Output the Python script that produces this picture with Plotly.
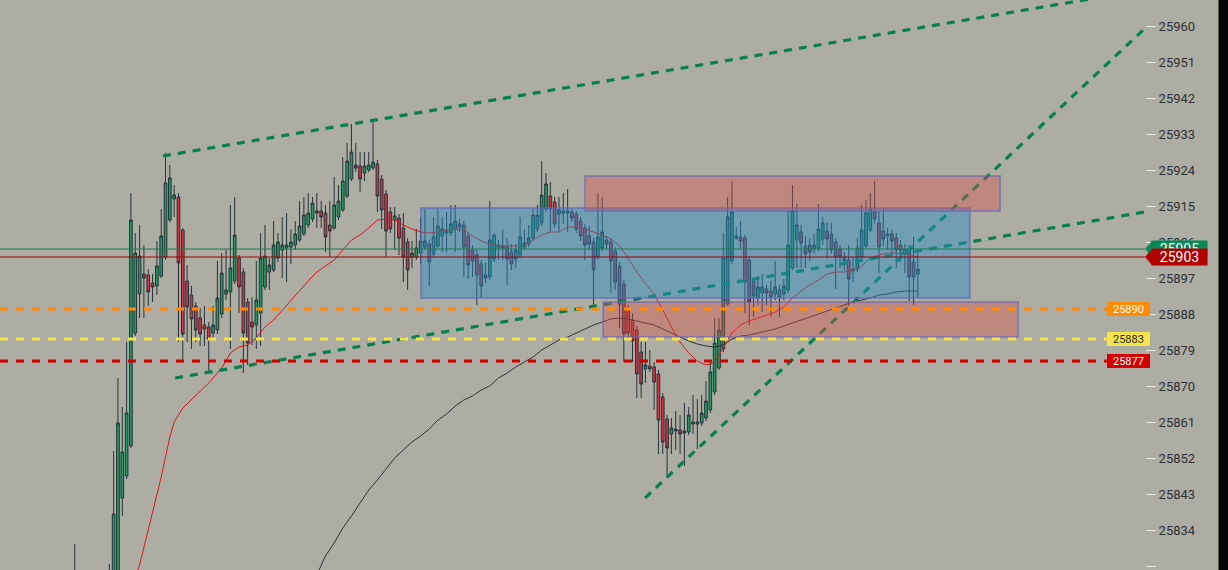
import plotly.graph_objects as go

# candle data (index = bar number, prices)
opens = [25810, 25816, 25812, 25808, 25813, 25810, 25814, 25812, 25812, 25815,
         25820, 25842, 25847.5, 25855, 25883.25, 25893, 25898, 25897.75, 25895.75, 25895,
         25897.5, 25902.25, 25911.5, 25916.75, 25917.25, 25909, 25896.25, 25892.75, 25890, 25887,
         25885.25, 25884.75, 25883.25, 25884, 25888, 25893, 25893.5, 25896.25, 25902, 25898.5,
         25891, 25886, 25885.25, 25888.25, 25894.75, 25898.5, 25899, 25902, 25904, 25904.5,
         25904.75, 25905.25, 25906.5, 25908, 25910.25, 25911.75, 25913.75, 25913.75, 25913.25, 25910.25,
         25909.5, 25912.25, 25914, 25917.5, 25921.75, 25925.25, 25925, 25923.25, 25924, 25924.5,
         25925.5, 25921.75, 25918, 25913.5, 25911.5, 25912, 25909.5, 25906, 25902.25, 25902.25,
         25903.25, 25904.75, 25905.5, 25903, 25905, 25907.5, 25908.25, 25908.25, 25909.25, 25910.5,
         25910.25, 25907.5, 25904, 25902.75, 25900.5, 25897.75, 25897.25, 25901.75, 25904.5, 25904.5,
         25904.75, 25903.5, 25901.75, 25902.75, 25904.75, 25905.5, 25907, 25909.25, 25910.75, 25914.25,
         25917.5, 25916, 25913, 25913.25, 25913.25, 25913.5, 25913, 25911.25, 25909.5, 25907.5,
         25906, 25902.25, 25904.5, 25906.5, 25906, 25903.75, 25900, 25895.5, 25889.25, 25886.5,
         25884, 25878.5, 25874.25, 25875, 25874.75, 25873, 25867.25, 25861.75, 25858, 25858.75,
         25859, 25858.25, 25858.5, 25860.5, 25860.5, 25860.75, 25862, 25864, 25868.5, 25874.5,
         25879.25, 25890.5, 25901.25, 25907, 25907.25, 25907, 25901.5, 25896.25, 25892, 25893.25,
         25894.25, 25893.75, 25893, 25894, 25893, 25894, 25899.5, 25906.5, 25908.5, 25905,
         25905.25, 25904.25, 25904.5, 25906.75, 25908.75, 25908, 25906, 25904.25, 25901.25, 25901.5,
         25898.75, 25899.25, 25902.25, 25905, 25909, 25913.5, 25910.75, 25908.75, 25907.5, 25908,
         25907, 25905.25, 25904.25, 25904.25, 25901, 25898]
highs = [25830.5, 25821, 25818, 25815, 25819, 25817, 25820, 25822, 25825.5, 25853.75,
         25872, 25864.75, 25881, 25918.25, 25908.25, 25910.25, 25905.25, 25899.25, 25898, 25906.25,
         25914.25, 25928.25, 25925.25, 25920.25, 25918.25, 25909.5, 25900.25, 25895, 25891, 25889.5,
         25890, 25886, 25890, 25901.25, 25903.25, 25904.25, 25915.25, 25917.25, 25902.75, 25899.5,
         25892, 25892.25, 25901.25, 25908.25, 25910.25, 25902, 25911.25, 25908.25, 25912.25, 25913.25,
         25909.25, 25911.25, 25916.25, 25917.25, 25918.25, 25917.25, 25918.25, 25916.25, 25915.25, 25916.25,
         25922.25, 25920.25, 25927.25, 25930.75, 25935.5, 25930.75, 25928.5, 25928.5, 25928.5, 25936.25,
         25926.5, 25922.75, 25919, 25914.75, 25914.75, 25913, 25913.25, 25907, 25906.25, 25909.25,
         25912.25, 25914.25, 25906.5, 25912.25, 25914.25, 25912.25, 25913.5, 25915.25, 25915.25, 25911.75,
         25911.25, 25908.5, 25905.25, 25904, 25901.5, 25900.75, 25916.25, 25908.25, 25906.5, 25909.25,
         25907, 25905.5, 25905.5, 25912.25, 25909.25, 25910.25, 25914.25, 25915.25, 25926.25, 25923.25,
         25921, 25917.25, 25917.25, 25918.25, 25919.25, 25914.25, 25913.75, 25912.25, 25910.5, 25910,
         25907, 25918.25, 25917.25, 25907.5, 25907, 25904.75, 25901, 25896.5, 25890.25, 25888.25,
         25885, 25881, 25881, 25879, 25876, 25874, 25868.25, 25862.75, 25862, 25863.75,
         25862.75, 25865.75, 25864.75, 25867.75, 25866.75, 25867.75, 25871.25, 25876.25, 25887, 25887,
         25908.25, 25917.25, 25921.25, 25909.75, 25911.25, 25907.75, 25902.5, 25897, 25897.5, 25898,
         25895.25, 25896.25, 25901.25, 25895.25, 25896.75, 25914, 25920.25, 25915.5, 25910.25, 25907.5,
         25907, 25908, 25915.5, 25912.25, 25911, 25910.75, 25907, 25905.25, 25903.5, 25905.25,
         25902, 25907, 25915.25, 25916.5, 25918.25, 25921.25, 25913.5, 25914.25, 25909.5, 25909,
         25908.25, 25906.5, 25905.5, 25905.25, 25907.25, 25904.25]
lows = [25805, 25808, 25804, 25802, 25806, 25805, 25809, 25808, 25806, 25810,
        25816, 25837.5, 25846.75, 25854.5, 25882.5, 25887, 25887, 25890, 25891, 25892.75,
        25897, 25901.5, 25911, 25912.25, 25881, 25876.25, 25881, 25879.25, 25881, 25880,
        25880, 25873.25, 25882, 25883, 25887, 25891.5, 25879.25, 25895.5, 25888.25, 25873.25,
        25875.25, 25880.25, 25879.25, 25880, 25894, 25894, 25898.5, 25901, 25897, 25896,
        25900.5, 25904, 25906, 25907.5, 25909.5, 25911, 25909.5, 25909.5, 25903.5, 25902.25,
        25909, 25911.5, 25913.5, 25917, 25921.25, 25923.5, 25918.5, 25921.25, 25923.5, 25924,
        25913.5, 25909.25, 25902.25, 25908.25, 25904, 25902.75, 25896, 25894, 25899.5, 25901.5,
        25900.5, 25904, 25895, 25902.25, 25904.5, 25903.5, 25903.5, 25907.5, 25903.5, 25908.5,
        25897.25, 25896.75, 25897.25, 25890.25, 25892.25, 25895.75, 25896.5, 25901, 25901.5, 25901.5,
        25895.25, 25899, 25899.5, 25902, 25904, 25904.75, 25906.5, 25908.5, 25910, 25913.5,
        25908.5, 25909.5, 25908.5, 25910.5, 25908.5, 25911, 25908.25, 25906.25, 25901.5, 25904,
        25890.25, 25901.5, 25903.75, 25904.25, 25893.25, 25894, 25884.5, 25876, 25881.5, 25876,
        25867, 25867, 25870.75, 25873.5, 25864, 25853, 25853, 25847, 25853, 25854,
        25853, 25850, 25857.75, 25858, 25854.25, 25860, 25861.25, 25863.25, 25867.75, 25874,
        25878.5, 25890, 25900.5, 25906.5, 25904.5, 25888.25, 25885.25, 25887.25, 25890.25, 25888.5,
        25890.25, 25887.25, 25891.5, 25887.25, 25891.5, 25893.25, 25899, 25899.5, 25899.5, 25899.5,
        25901.25, 25903, 25903.75, 25905.25, 25902, 25903, 25894.25, 25899.5, 25899, 25890,
        25896, 25898.5, 25901.5, 25904.25, 25908.5, 25910.5, 25898.25, 25905, 25904, 25902.5,
        25899.5, 25901, 25898.25, 25891.25, 25890.25, 25892.25]
closes = [25816, 25812, 25808, 25813, 25810, 25814, 25812, 25818, 25820, 25838,
          25860.75, 25853.5, 25863.25, 25911.5, 25903.25, 25902.5, 25897, 25893.5, 25894.75, 25900,
          25907.5, 25920.75, 25922, 25917.75, 25900.75, 25883, 25889.75, 25886.75, 25884, 25883,
          25884.25, 25881.75, 25885.25, 25892, 25898.25, 25894, 25899.5, 25907.75, 25894.75, 25883.25,
          25880.75, 25884.75, 25891.5, 25902, 25902.5, 25900.25, 25905.25, 25906, 25905.25, 25905.25,
          25906, 25908, 25910, 25912.75, 25913.25, 25915.75, 25913.25, 25912.25, 25907.25, 25908.75,
          25915.25, 25916.25, 25921.25, 25926.25, 25928.5, 25924.5, 25921.75, 25925, 25925.25, 25926,
          25917.5, 25914, 25908.75, 25909.25, 25912.5, 25907, 25902.25, 25899, 25903.25, 25904.5,
          25906.25, 25906.25, 25901, 25907.25, 25910, 25909.25, 25908.75, 25910.5, 25911.25, 25909.75,
          25904.75, 25900.25, 25901.25, 25897.75, 25895, 25897, 25906.5, 25907.75, 25905.25, 25905,
          25901.75, 25900.5, 25904, 25907.25, 25905.75, 25907, 25912.75, 25912.75, 25917.75, 25920.5,
          25914.25, 25910.5, 25914, 25913.75, 25913.75, 25912, 25909.25, 25907.5, 25905.25, 25905.5,
          25899, 25907.25, 25908.5, 25905.5, 25901.25, 25896, 25890.5, 25883, 25883.25, 25881.25,
          25873, 25870.5, 25875.25, 25874.25, 25871, 25861.5, 25856, 25854.5, 25859.5, 25859.25,
          25858, 25858.75, 25862.75, 25861, 25861, 25863.25, 25866.25, 25873.5, 25880.75, 25884,
          25902, 25912.25, 25913.5, 25907.5, 25906.25, 25896, 25891, 25892.5, 25894.75, 25894.75,
          25893.25, 25892.25, 25894.75, 25892.25, 25895, 25905.25, 25913.75, 25910.25, 25905.75, 25903,
          25903.5, 25905.25, 25909.25, 25910.75, 25906.75, 25904, 25902.25, 25902.25, 25902, 25896.75,
          25899.25, 25904.5, 25909, 25913.25, 25914.5, 25911.75, 25904.75, 25906.75, 25908, 25906.25,
          25904, 25904, 25903, 25897.25, 25897.25, 25899.25]
bars = list(range(len(closes)))

# moving averages (bar index, price)
fast_ma_x = [13, 15, 17, 20, 22, 23, 25, 28, 31, 34, 36, 38, 40, 42, 44, 46, 48, 50, 52, 54,
             56, 58, 60, 62, 64, 66, 68, 70, 72, 74, 76, 78, 80, 82, 84, 86, 88, 90, 92, 94,
             96, 98, 100, 102, 104, 106, 108, 110, 112, 114, 116, 118, 120, 122, 124, 126, 128, 130, 132, 134,
             136, 138, 140, 142, 144, 146, 147, 148, 150, 152, 154, 156, 158, 160, 162, 164, 166, 168, 170, 172,
             174, 176, 178, 180, 182, 184, 186, 188, 190, 192, 194, 195]
fast_ma_y = [25819, 25825.25, 25834, 25847.25, 25857.25, 25861, 25864.5, 25867.75, 25870.75, 25874.5,
             25878.25, 25879.75, 25880.25, 25882, 25884.75, 25886.5, 25889, 25891.5, 25894, 25896.25,
             25898.5, 25900, 25901.5, 25904, 25906.5, 25907.75, 25909.5, 25911.5, 25911.75, 25911.5,
             25910.25, 25909.25, 25908.5, 25908.25, 25908.5, 25909, 25909.25, 25909, 25907.5, 25906.25,
             25905.5, 25905, 25905, 25905, 25905.25, 25906.5, 25907.75, 25908.5, 25908.5, 25909.75,
             25909.75, 25909.25, 25908.5, 25907.75, 25906.75, 25905, 25902, 25898.5, 25895.5, 25893,
             25889, 25884.75, 25881, 25878.25, 25876.25, 25875.25, 25875.5, 25876, 25879.5, 25883.25,
             25885.25, 25886.25, 25887, 25887.75, 25888.5, 25889.75, 25892, 25893.75, 25895.25, 25896.5,
             25898, 25898.5, 25898.5, 25899, 25900, 25902, 25902.75, 25903.25, 25903.25, 25903,
             25902.5, 25902.25]
slow_ma_x = [56, 58, 60, 62, 64, 66, 68, 70, 72, 74, 76, 78, 80, 82, 84, 86, 88, 90, 92, 94,
             96, 98, 100, 102, 104, 106, 108, 110, 112, 114, 116, 118, 120, 122, 124, 126, 128, 130, 132, 134,
             136, 138, 140, 142, 144, 146, 148, 150, 152, 154, 156, 158, 160, 162, 164, 166, 168, 170, 172, 174,
             176, 178, 180, 182, 184, 186, 188, 190, 192, 195]
slow_ma_y = [25822.75, 25827.5, 25830.75, 25834.5, 25837.5, 25840.75, 25844, 25846.5, 25849.25, 25852,
             25854, 25856, 25857.5, 25859.25, 25861.5, 25863, 25865, 25866.5, 25867.5, 25869,
             25870, 25872, 25873.25, 25874.75, 25876, 25877.25, 25879, 25880.25, 25881.5, 25882.25,
             25883.25, 25884.25, 25885.25, 25886, 25886.75, 25887, 25886.75, 25886.25, 25885.75, 25885.25,
             25884.25, 25883.25, 25882.25, 25881.25, 25880.5, 25880, 25879.75, 25880.25, 25881.75, 25882.5,
             25882.75, 25883.25, 25883.75, 25884.25, 25885, 25885.75, 25886.5, 25887.25, 25888, 25888.75,
             25889.5, 25890.25, 25891, 25891.5, 25892, 25892.75, 25893, 25893.5, 25893.75, 25893.75]

# drawings: trend lines as [start, end] in (bar, price)
upper_channel_x = [20.4, 240.0]
upper_channel_y = [25927.5, 25967.7]
lower_channel_x = [23.2, 247.5]
lower_channel_y = [25872.0, 25913.5]
steep_line_x = [131.9, 247.1]
steep_line_y = [25842.0, 25959.0]

# zones: (bar0, bar1, price_low, price_high)
blue_zone = (80.1, 207.0, 25892.0, 25914.5)
red_zones = [(118.0, 214.0, 25913.75, 25922.5), (122.2, 218.2, 25882.25, 25891.0)]

# horizontal levels
level_prices = [25889.25, 25881.75, 25876.25]
level_labels = ["25890", "25883", "25877"]
level_colors = ["#ff8c00", "#f5e34a", "#d40000"]
level_text_colors = ["#ffffff", "#2a2a2a", "#ffffff"]

ask_price, ask_label = 25904.25, "25905"
bid_price, bid_label = 25902.25, "25903"

tick_values = [25825, 25834, 25843, 25852, 25861, 25870, 25879, 25888, 25897, 25906,
               25915, 25924, 25933, 25942, 25951, 25960]

BG = "#aeada3"
PAPER_W = 1145.0


def px(x):
    # pixel column -> paper fraction
    return x / PAPER_W


fig = go.Figure()

fig.add_trace(go.Candlestick(
    x=bars, open=opens, high=highs, low=lows, close=closes,
    increasing=dict(line=dict(color="#26333b", width=1), fillcolor="#1e9c5e"),
    decreasing=dict(line=dict(color="#26333b", width=1), fillcolor="#d8303f"),
    whiskerwidth=0, showlegend=False, hoverinfo="skip",
))

fig.add_trace(go.Scatter(x=slow_ma_x, y=slow_ma_y, mode="lines",
                         line=dict(color="#2f3234", width=1), showlegend=False, hoverinfo="skip"))
fig.add_trace(go.Scatter(x=fast_ma_x, y=fast_ma_y, mode="lines",
                         line=dict(color="#d8161a", width=1), showlegend=False, hoverinfo="skip"))

for lx, ly in [(upper_channel_x, upper_channel_y), (lower_channel_x, lower_channel_y),
               (steep_line_x, steep_line_y)]:
    fig.add_trace(go.Scatter(x=lx, y=ly, mode="lines",
                             line=dict(color="#06804f", width=3.2, dash="8px,7px"),
                             showlegend=False, hoverinfo="skip"))

shapes = []
# zones drawn over the candles
b0, b1, p0, p1 = blue_zone
shapes.append(dict(type="rect", xref="x", yref="y", x0=b0, x1=b1, y0=p0, y1=p1,
                   fillcolor="rgba(40,140,200,0.45)", layer="above",
                   line=dict(color="rgba(95,100,190,0.6)", width=2)))
for b0, b1, p0, p1 in red_zones:
    shapes.append(dict(type="rect", xref="x", yref="y", x0=b0, x1=b1, y0=p0, y1=p1,
                       fillcolor="rgba(215,80,70,0.4)", layer="above",
                       line=dict(color="rgba(95,100,190,0.55)", width=2)))

# dashed levels with their tags
for p, lab, col, tcol in zip(level_prices, level_labels, level_colors, level_text_colors):
    shapes.append(dict(type="line", xref="paper", yref="y", x0=0, x1=px(1107), y0=p, y1=p,
                       layer="above", line=dict(color=col, width=3, dash="8px,8px")))
    shapes.append(dict(type="rect", xref="paper", yref="y", x0=px(1107), x1=px(1150),
                       y0=p - 1.75, y1=p + 1.75, layer="above", fillcolor=col,
                       line=dict(color=col, width=0)))
    fig.add_annotation(xref="paper", yref="y", x=px(1128.5), y=p, text=lab, showarrow=False,
                       xanchor="center", yanchor="middle",
                       font=dict(family="Roboto", size=11, color=tcol))

# last price lines
for p, col in [(ask_price, "#1a7a52"), (bid_price, "#a00000")]:
    shapes.append(dict(type="line", xref="paper", yref="y", x0=0, x1=1, y0=p, y1=p,
                       layer="above", line=dict(color=col, width=1)))

# price tags on the axis (arrow shaped); the bid tag sits on top of the ask tag
tags = [(ask_price, ask_label, "#088a55"), (bid_price, bid_label, "#b00000")]
for p, lab, col in tags:
    path = (f"M {px(1145)},{p} L {px(1152)},{p + 2} L {px(1207)},{p + 2} "
            f"L {px(1207)},{p - 2} L {px(1152)},{p - 2} Z")
    shapes.append(dict(type="path", xref="paper", yref="y", path=path, layer="above",
                       fillcolor=col, line=dict(color=col, width=0)))
for p, lab, col in tags:
    fig.add_annotation(xref="paper", yref="y", x=px(1179.5), y=p, text=lab, showarrow=False,
                       xanchor="center", yanchor="middle",
                       width=55, height=16, borderpad=0, bgcolor=col,
                       font=dict(family="Roboto", size=14, color="#ffffff"))

# dark strip along the right edge of the window
fig.add_annotation(xref="paper", yref="paper", x=px(1218), y=0.5, xanchor="left", yanchor="middle",
                   text=" ", showarrow=False, width=14, height=580, borderpad=0,
                   bgcolor="#050505", font=dict(size=10, color="#050505"))

fig.update_layout(
    width=1228, height=570,
    margin=dict(l=0, r=83, t=0, b=0),
    paper_bgcolor=BG, plot_bgcolor=BG,
    shapes=shapes,
    showlegend=False,
    boxgap=0.12,
    font=dict(family="Roboto"),
)
fig.update_xaxes(visible=False, range=[-17.28, 247.53],
                 rangeslider=dict(visible=False), showgrid=False, zeroline=False)
fig.update_yaxes(range=[25824, 25966.5], side="right", automargin=False,
                 tickvals=tick_values, ticktext=[str(v) for v in tick_values],
                 ticks="outside", ticklen=10, tickcolor="#ecece4", tickwidth=1,
                 tickfont=dict(family="Roboto", size=13, color="#2d3136"),
                 showgrid=False, zeroline=False, showline=False)

fig.write_html("out.html", config={"displayModeBar": False},
               post_script="document.body.style.margin='0';")
